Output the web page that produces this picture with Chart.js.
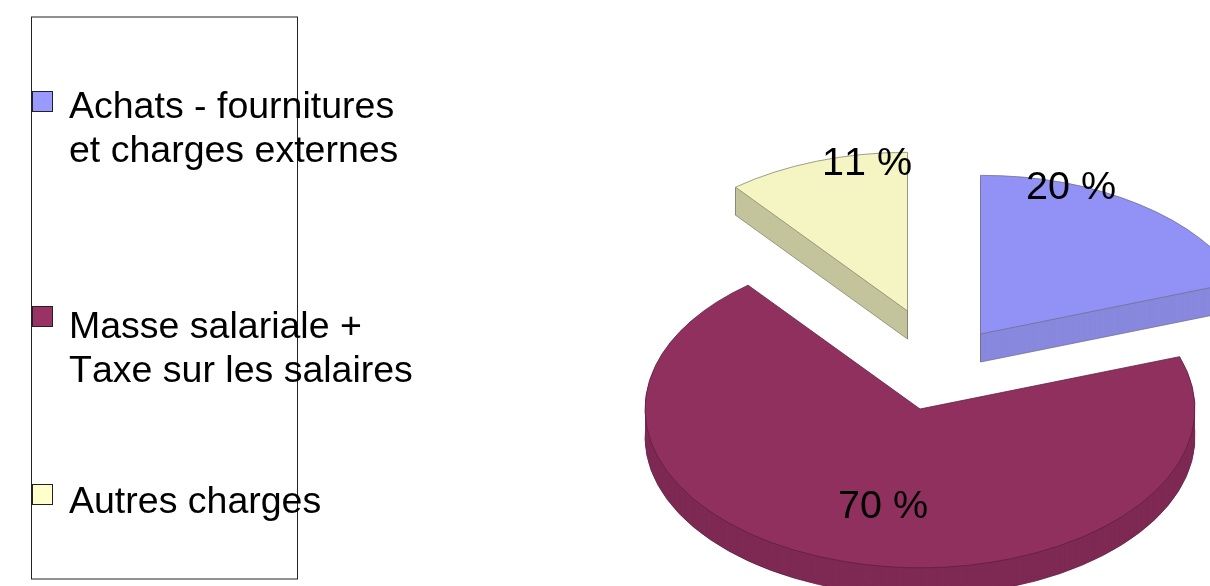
<!DOCTYPE html>
<html>
<head>
<meta charset="utf-8">
<style>
  html, body { margin: 0; padding: 0; background: #fff; overflow: hidden; }
  canvas { display: block; }
</style>
<script src="https://cdn.jsdelivr.net/npm/chart.js@4/dist/chart.umd.js"></script>
</head>
<body>
<canvas id="pieChart" width="1210" height="586"></canvas>
<script>
// Data
const categories = ["Achats - fournitures et charges externes", "Masse salariale + Taxe sur les salaires", "Autres charges"];
const legendLines = [["Achats - fournitures", "et charges externes"], ["Masse salariale +", "Taxe sur les salaires"], ["Autres charges"]];
const values = [19.65, 69.6, 10.75];

// Colours
const topColors = ["#9191f6", "#90305f", "#f5f5c4"];
const sideColors = ["#8888de", "#7e2a54", "#c4c49c"];
const edgeColors = ["#70708c", "#5c1f3d", "#85856e"];
const swatchColors = ["#9999ff", "#993366", "#ffffcc"];

// 3D look: squash factor, thickness and where each slice's tip ends up
const squash = 0.577;
const depth = 28;
const sliceTips = [[980.5, 334], [920, 409], [907.5, 311]];
const edgeAtTip = [true, false, true];
const edgeAtStart = [false, false, true];

const labelSpots = [[1071, 199], [883, 518], [867, 175]];
const legendSpots = [91, 306, 484];
const legendBaselines = [118, 338, 513];

function drawArc(ctx, arc, i, dy, fill, border) {
    const saved = arc.options;
    arc.options = Object.assign({}, saved, { backgroundColor: fill, borderColor: border || fill, borderWidth: border ? 1 : 0 });
    ctx.save();
    ctx.translate(sliceTips[i][0], sliceTips[i][1] + dy);
    ctx.scale(1, squash);
    ctx.translate(-arc.x, -arc.y);
    arc.draw(ctx);
    ctx.restore();
    arc.options = saved;
}

const pie3d = {
    id: "pie3d",
    beforeDatasetsDraw(chart) {
        const ctx = chart.ctx;
        const arcs = chart.getDatasetMeta(0).data;
        arcs.forEach((arc, i) => {
            drawArc(ctx, arc, i, depth, sideColors[i], edgeColors[i]);
            for (let d = depth - 1; d > 0; d--) {
                drawArc(ctx, arc, i, d, sideColors[i]);
            }
            // vertical edges of the slice wall
            const tip = sliceTips[i];
            ctx.strokeStyle = edgeColors[i];
            ctx.lineWidth = 1;
            ctx.beginPath();
            if (edgeAtTip[i]) {
                ctx.moveTo(tip[0], tip[1]);
                ctx.lineTo(tip[0], tip[1] + depth);
            }
            if (edgeAtStart[i]) {
                const x = tip[0] + arc.outerRadius * Math.cos(arc.startAngle);
                const y = tip[1] + arc.outerRadius * squash * Math.sin(arc.startAngle);
                ctx.moveTo(x, y);
                ctx.lineTo(x, y + depth);
            }
            ctx.stroke();
            drawArc(ctx, arc, i, 0, topColors[i], edgeColors[i]);
        });
        return false;
    },
    afterDraw(chart) {
        const ctx = chart.ctx;
        ctx.save();
        ctx.fillStyle = "#000";
        ctx.textBaseline = "alphabetic";
        ctx.fontKerning = "none";

        // percent labels
        ctx.font = '39.5px "Liberation Sans", Arial, sans-serif';
        ctx.textAlign = "center";
        values.forEach((v, i) => {
            ctx.fillText(Math.round(v) + " %", labelSpots[i][0], labelSpots[i][1]);
        });

        // legend frame, swatches and text
        ctx.strokeStyle = "#222";
        ctx.lineWidth = 1;
        ctx.strokeRect(31.5, 17, 266, 562);
        ctx.font = '37.5px "Liberation Sans", Arial, sans-serif';
        ctx.textAlign = "left";
        legendLines.forEach((lines, i) => {
            ctx.fillStyle = swatchColors[i];
            ctx.fillRect(32, legendSpots[i], 21, 21);
            ctx.strokeRect(32.5, legendSpots[i] + 0.5, 20, 20);
            ctx.fillStyle = "#000";
            lines.forEach((line, n) => {
                ctx.fillText(line, 69, legendBaselines[i] + n * 44);
            });
        });
        ctx.restore();
    }
};

const pieChart = new Chart(document.getElementById("pieChart").getContext("2d"), {
    type: "pie",
    data: {
        labels: categories,
        datasets: [{ data: values, backgroundColor: topColors, borderColor: edgeColors, borderWidth: 1 }]
    },
    options: {
        responsive: false,
        animation: false,
        // leaves a chart area about 551 wide and tall, so the pie radius comes out near 275
        layout: { padding: { left: 644, right: 15, top: 17, bottom: 18 } },
        plugins: { legend: { display: false }, tooltip: { enabled: false } }
    },
    plugins: [pie3d]
});
</script>
</body>
</html>
